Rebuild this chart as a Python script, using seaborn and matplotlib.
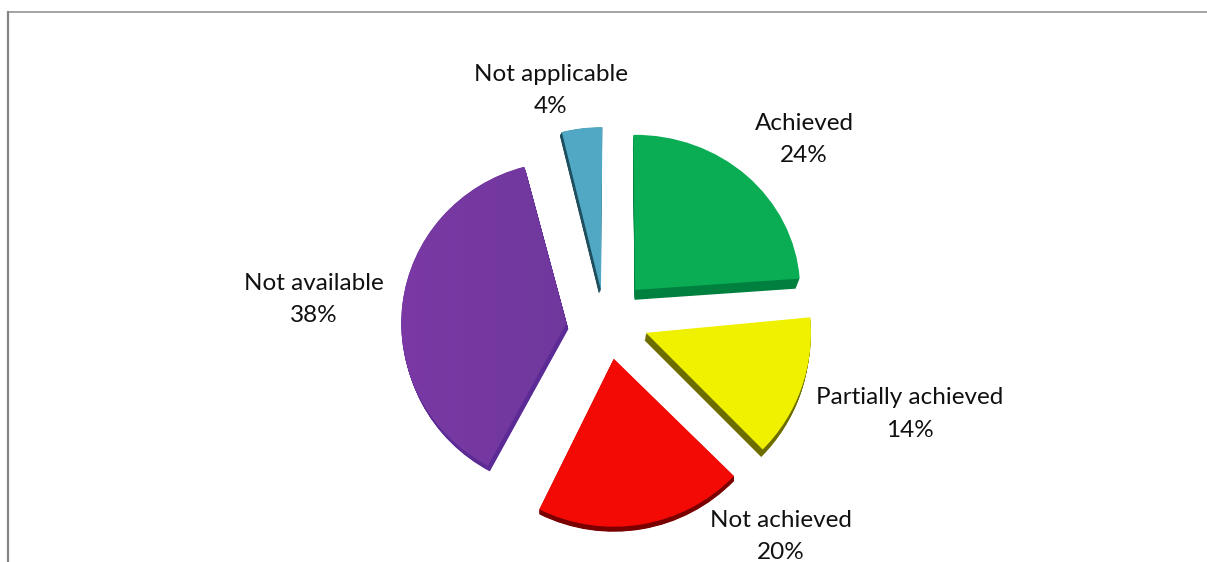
import matplotlib
matplotlib.use("Agg")
import matplotlib.pyplot as plt
from matplotlib.colors import LinearSegmentedColormap
from matplotlib.patches import Wedge
from matplotlib.transforms import Affine2D
import numpy as np
import seaborn as sns

# Outcome shares, clockwise from twelve o'clock
categories = ["Achieved", "Partially achieved", "Not achieved", "Not available", "Not applicable"]
shares = [24, 14, 20, 38, 4]

face_colors = ["#0AAD54", "#F0F100", "#F40A05", "#7438A0", "#50A8C5"]
side_colors = ["#00803F", "#6E6E00", "#7A0000", "#5C2B95", "#1F4F5E"]

WIDTH, HEIGHT = 1207, 562
sns.set_theme(style="white")
plt.rcParams["font.family"] = ["Lato", "DejaVu Sans"]

fig = plt.figure(figsize=(WIDTH / 100, HEIGHT / 100), dpi=100, facecolor="white")
ax = fig.add_axes([8 / WIDTH, 0, (WIDTH - 8) / WIDTH, (HEIGHT - 12) / HEIGHT])
ax.set_xlim(8, WIDTH)
ax.set_ylim(0, HEIGHT - 12)


def up(py):
    """Convert a distance from the top edge into the axes' upward y."""
    return HEIGHT - py


RADIUS = 165
# Axes here are in pixel units, so the pull-out of each slice is a pixel distance
explode = [44, 43, 38, 38, 32]
wedges, _ = ax.pie(
    shares,
    colors=sns.color_palette(face_colors),
    explode=explode,
    radius=RADIUS,
    center=(604, up(322)),
    startangle=90,
    counterclock=False,
    frame=True,
)

# Per-slice fine placement, outer reach, small turn and vertical squash from the
# tilted view, plus the bevel direction and taper of each slice
nudges = [(1, 0), (2, 5), (5, 1), (0, -6), (1, 0)]
radii = [165, 165, 168, 165, 163]
turns = [0.6, 1.8, 2.5, 0.4, -0.5]
squash = [0.94, 1.0, 1.0, 0.98, 1.0]
bevels = [(-0.5, -10.5), (-1.5, -7.5), (0, -5), (2, -6), (-2, -3.5)]
tapers = [3.5, 0, 0, 0, 0]

for wedge, nudge, radius, turn, sq, bevel, taper, side in zip(
        wedges, nudges, radii, turns, squash, bevels, tapers, side_colors):
    cx, cy = wedge.center
    cx, cy = cx + nudge[0], cy + nudge[1]
    wedge.set_center((cx, cy))
    wedge.set_radius(radius)
    wedge.set_theta1(wedge.theta1 + turn)
    wedge.set_theta2(wedge.theta2 + turn)
    wedge.set_zorder(3)
    wedge.set_edgecolor("none")
    view = Affine2D().translate(-cx, -cy).scale(1, sq).translate(cx, cy) + ax.transData
    wedge.set_transform(view)
    for t in np.linspace(0.1, 1, 12):
        ax.add_patch(Wedge((cx + bevel[0] * t, cy + bevel[1] * t), radius - taper * t,
                           wedge.theta1, wedge.theta2, transform=view,
                           facecolor=side, edgecolor="none", zorder=2))

# Soft left-to-right shading across the largest slice
purple = wedges[3]
shade = LinearSegmentedColormap.from_list("shade", ["#7A39A4", "#6F389D"])
cx, cy = purple.center
image = ax.imshow(np.linspace(0, 1, 256)[None, :], cmap=shade, aspect="auto", zorder=3.5,
                  extent=(cx - purple.r, cx + 10, cy - purple.r, cy + purple.r))
image.set_clip_path(purple)

# Slice captions: name above, share below
label_anchors = [(804, 139.5), (910, 414), (781, 536.5), (314, 299.5), (551, 90.5)]
for name, share, (px, py) in zip(categories, shares, label_anchors):
    ax.text(px, up(py), f"{name}\n{share}%", ha="center", va="center",
            fontsize=17.5, color="#111111", linespacing=1.68, clip_on=False, zorder=5)

# Only the top and left sides of the chart frame are in view
ax.set_xlim(8, WIDTH)
ax.set_ylim(0, HEIGHT - 12)
ax.set_aspect("auto")
ax.set_xticks([])
ax.set_yticks([])
ax.grid(False)
sns.despine(ax=ax, right=True, bottom=True, top=False, left=False)
ax.spines["top"].set_color("#8C8C8C")
ax.spines["top"].set_linewidth(1.1)
ax.spines["left"].set_color("#858585")
ax.spines["left"].set_linewidth(1.6)

fig.savefig("out.png", dpi=100, facecolor="white")
